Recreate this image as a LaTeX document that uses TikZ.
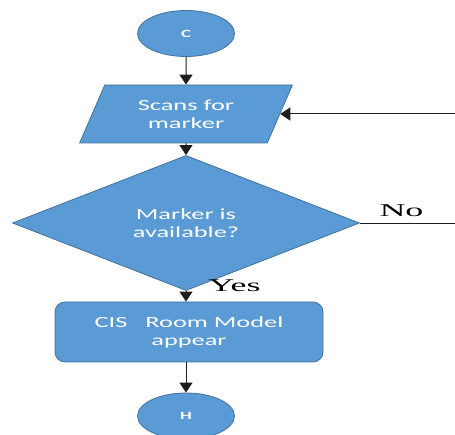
\documentclass[tikz,border=0pt]{standalone}
\usepackage{fontspec}
\usetikzlibrary{shapes.geometric,arrows.meta}
\newfontfamily\boxfont[FakeStretch=1.7]{Carlito}
\newfontfamily\labfont[FakeStretch=2.0]{Liberation Serif}
\definecolor{boxblue}{RGB}{91,155,213}
\definecolor{boxedge}{RGB}{65,113,156}
\definecolor{linegray}{RGB}{30,30,30}
\begin{document}
\begin{tikzpicture}[x=1pt,y=-1pt,
  shapebox/.style={fill=boxblue,draw=boxedge,line width=0.8pt,text=white,
    font=\boxfont\fontsize{15.5}{18}\selectfont,align=center,inner sep=0pt},
  termbox/.style={shapebox,ellipse,minimum width=97pt,minimum height=46pt,
    font=\boxfont\bfseries\fontsize{11}{13}\selectfont},
  iobox/.style={shapebox,trapezium,trapezium left angle=62.6,trapezium right angle=117.4,
    trapezium stretches=true,minimum width=213pt,minimum height=58pt},
  decbox/.style={shapebox,diamond,minimum width=347pt,minimum height=100pt},
  procbox/.style={shapebox,rectangle,rounded corners=10pt,minimum width=268pt,minimum height=60pt},
  flow/.style={draw=linegray,line width=1pt,-{Triangle[width=13pt,length=10pt]}},
  plain/.style={draw=linegray,line width=0.8pt},
  lab/.style={font=\labfont\fontsize{18}{20}\selectfont,text=black,inner sep=0pt,anchor=base}]
\useasboundingbox (0,0) rectangle (455,435);
\node[termbox] (c) at (186,33.5) {C};
\node[iobox] (scan) at (186,114) {Scans for\\marker};
\node[decbox] (dec) at (186,223) {Marker is\\available?};
\node[procbox] (room) at (189,332) {CIS\hspace{12pt} Room Model\\appear};
\node[termbox] (h) at (186,416) {H};
\coordinate (edgeR) at (455,0);
\draw[flow] (c) -- (scan);
\draw[flow] (scan) -- (dec);
\draw[flow] (dec.south) -- (dec.south |- room.north);
\draw[flow] (room.south -| h.north) -- (h.north);
\draw[plain] (dec.east) -- (dec.east -| edgeR);
\draw[flow] (scan.east -| edgeR) -- (scan.east);
\node[lab] (nolab) at (401.5,217) {No};
\node[lab] (yeslab) at (234.5,292) {Yes};
\end{tikzpicture}
\end{document}
